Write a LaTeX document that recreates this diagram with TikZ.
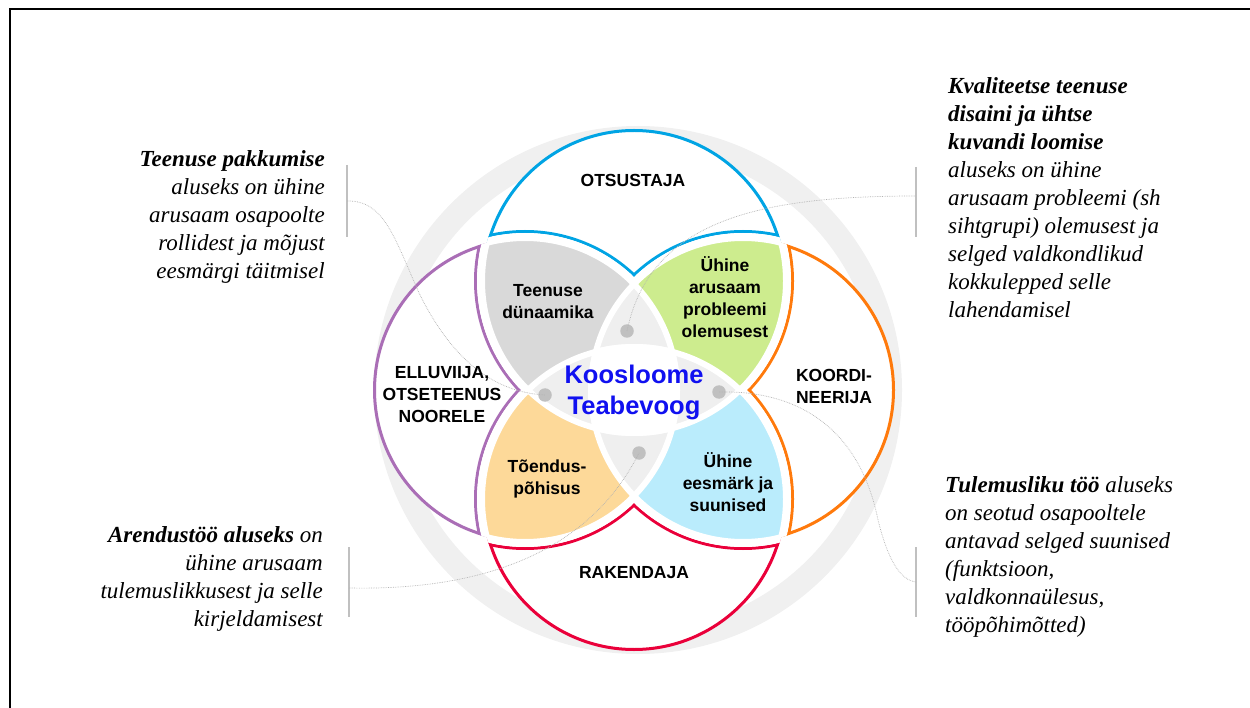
\documentclass[tikz,border=0pt]{standalone}
\usepackage{fontspec}
\setmainfont{Liberation Serif}
\newfontfamily\lsans{Liberation Sans}
\definecolor{cT}{RGB}{0,164,228}
\definecolor{cL}{RGB}{170,110,182}
\definecolor{cR}{RGB}{255,122,12}
\definecolor{cB}{RGB}{234,0,58}
\definecolor{fTL}{RGB}{217,217,217}
\definecolor{fTR}{RGB}{205,236,142}
\definecolor{fBL}{RGB}{253,217,153}
\definecolor{fBR}{RGB}{186,236,252}
\definecolor{ltgray}{RGB}{239,239,239}
\definecolor{ringgray}{RGB}{240,240,240}
\definecolor{dotgray}{RGB}{192,192,192}
\definecolor{bargray}{RGB}{192,192,192}
\definecolor{koblue}{RGB}{16,16,240}
\begin{document}
\begin{tikzpicture}[x=1pt,y=-1pt,
  lab/.style={font=\lsans\bfseries\fontsize{17.5}{22}\selectfont, align=center, inner sep=0pt, text=black},
  note/.style={font=\itshape\fontsize{23}{28}\selectfont, inner sep=0pt, text=black},
  bar/.style={draw=bargray, line width=2.6pt},
  conn/.style={draw=black!30, line width=0.7pt, densely dotted},
  gdot/.style={circle, fill=dotgray, minimum size=13.5pt, inner sep=0pt},
]
\useasboundingbox (0,0) rectangle (1250,708);
\coordinate (C) at (634,390);
\coordinate (T) at (634,281);
\coordinate (B) at (634,499);
\coordinate (L) at (525,390);
\coordinate (R) at (743,390);

% background ring
\fill[ringgray, even odd rule] (638,390) circle (264pt) (638,390) circle (240pt);

% outer circles
\foreach \c/\col in {T/cT,R/cR,B/cB,L/cL}{
  \draw[\col, line width=3pt, fill=white] (\c) circle (150.5pt);
}
% inner outline bands of outer pieces
\foreach \a/\b/\ca/\cb in {T/L/cT/cL, T/R/cT/cR, B/L/cB/cL, B/R/cB/cR}{
  \begin{scope} \clip (\a) circle (152pt); \draw[\ca, line width=3pt] (\b) circle (158.5pt); \end{scope}
  \begin{scope} \clip (\b) circle (152pt); \draw[\cb, line width=3pt] (\a) circle (158.5pt); \end{scope}
}
% white gaps
\foreach \a/\b in {T/L, T/R, B/L, B/R}{
  \begin{scope} \clip (\a) circle (152pt); \fill[white] (\b) circle (157pt); \end{scope}
  \begin{scope} \clip (\b) circle (152pt); \fill[white] (\a) circle (157pt); \end{scope}
}
% inner lenses
\foreach \a/\b/\f in {T/L/fTL, T/R/fTR, B/L/fBL, B/R/fBR, L/R/ltgray, T/B/ltgray}{
  \begin{scope} \clip (\a) circle (152pt); \fill[\f] (\b) circle (152pt); \end{scope}
}
\begin{scope}
  \clip (T) circle (152pt); \clip (B) circle (152pt); \clip (L) circle (152pt);
  \fill[white] (R) circle (152pt);
\end{scope}
% inner gap strokes
\foreach \a/\b in {T/L, T/R, B/L, B/R, L/T, R/T, L/B, R/B}{
  \begin{scope} \clip (\b) circle (152pt); \draw[white, line width=6pt] (\a) circle (152pt); \end{scope}
}

% side bars
\draw[bar] (347,165) -- (347,237);
\draw[bar] (916,167) -- (916,237);
\draw[bar] (349,547) -- (349,617);
\draw[bar] (916,547) -- (916,617);
\coordinate (b1) at (347,201);
\coordinate (b2) at (916,196);
\coordinate (b3) at (349,588);
\coordinate (b4) at (916,582);

% dots
\node[gdot] (d1) at (627,331) {};
\node[gdot] (d2) at (545,395) {};
\node[gdot] (d3) at (719,392) {};
\node[gdot] (d4) at (639,453) {};

% connectors
\draw[conn] (d1.center) .. controls (650,220) and (760,196) .. (b2);
\draw[conn] (b1) .. controls (385,200) and (395,240) .. (420,295) .. controls (450,355) and (490,392) .. (d2.center);
\draw[conn] (d3.center) .. controls (800,390) and (860,430) .. (878,520) .. controls (888,560) and (900,580) .. (b4);
\draw[conn] (b3) .. controls (450,590) and (580,570) .. (d4.center);

% labels
\node[lab] (otsustaja) at (633,180) {OTSUSTAJA};
\node[lab] (dynaamika) at (548,302) {Teenuse\\dünaamika};
\node[lab] (probleem) at (725,297) {Ühine\\arusaam\\probleemi\\olemusest};
\node[lab] (elluviija) at (442,395) {ELLUVIIJA,\\OTSETEENUS\\NOORELE};
\node[lab, align=left] (koordi) at (834,386) {KOORDI-\\NEERIJA};
\node[lab] (toendus) at (547,479) {Tõendus-\\põhisus};
\node[lab] (eesmark) at (728,482) {Ühine\\eesmärk ja\\suunised};
\node[lab] (rakendaja) at (634,573) {RAKENDAJA};
\node[font=\lsans\bfseries\fontsize{25.5}{31}\selectfont, text=koblue, align=center, inner sep=0pt] (koos) at (634,392) {Koosloome\\Teabevoog};

% notes
\node[note, anchor=north east, align=right] (n1) at (325,150) {\textbf{Teenuse pakkumise}\\aluseks on ühine\\arusaam osapoolte\\rollidest ja mõjust\\eesmärgi täitmisel};
\node[note, anchor=north west, align=left] (n2) at (948,77) {\textbf{Kvaliteetse teenuse}\\\textbf{disaini ja ühtse}\\\textbf{kuvandi loomise}\\aluseks on ühine\\arusaam probleemi (sh\\sihtgrupi) olemusest ja\\selged valdkondlikud\\kokkulepped selle\\lahendamisel};
\node[note, anchor=north east, align=right] (n3) at (323,526) {\textbf{Arendustöö aluseks} on\\ühine arusaam\\tulemuslikkusest ja selle\\kirjeldamisest};
\node[note, anchor=north west, align=left] (n4) at (945,476) {\textbf{Tulemusliku töö} aluseks\\on seotud osapooltele\\antavad selged suunised\\(funktsioon,\\valdkonnaülesus,\\tööpõhimõtted)};

% frame
\draw[line width=1.8pt] (10,712) -- (10,9) -- (1254,9);
\end{tikzpicture}
\end{document}
